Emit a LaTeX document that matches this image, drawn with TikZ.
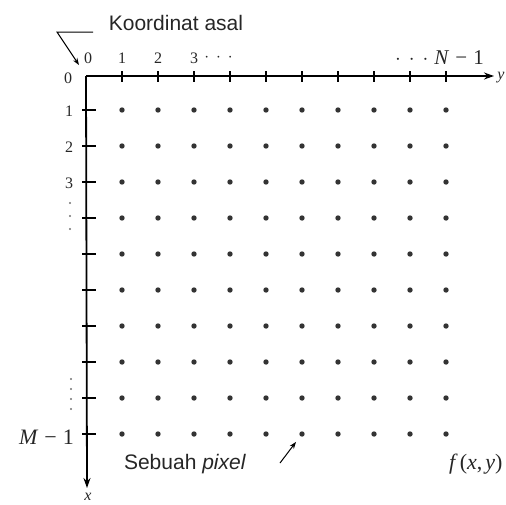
\documentclass[tikz,border=0pt]{standalone}
\usepackage{fontspec}
\setmainfont{Liberation Serif}
\newfontfamily\labelsans{Liberation Sans}
\usetikzlibrary{positioning,calc,arrows.meta}

\begin{document}
\begin{tikzpicture}[x=1pt,y=-1pt,
    axis/.style={line width=1.8pt,-{Stealth[length=10pt,width=7pt]}},
    tick/.style={line width=1.2pt},
    pix/.style={circle,fill=black!80,inner sep=0pt,minimum size=5.4pt},
    skip/.style={circle,fill=black!55,inner sep=0pt,minimum size=2.2pt},
    num/.style={font=\fontsize{16}{17}\selectfont,inner sep=1pt,text=black!85},
    big/.style={font=\fontsize{21}{22}\selectfont,inner sep=1pt,text=black!85},
    note/.style={font=\labelsans\fontsize{21}{23}\selectfont,inner sep=1pt,text=black!85},
    lead/.style={line width=1pt,-{Stealth[length=7pt,width=5pt]}}]
  \useasboundingbox (0,0) rectangle (506,504);
  \coordinate (o) at (86,76);
  \coordinate (yend) at (494,76);
  \coordinate (xend) at (87,488);
  % pixel grid with ticks
  \foreach \i in {1,...,10}{
    \draw[tick] (86+36*\i,71) -- (86+36*\i,82);
    \draw[tick] (82,74+36*\i) -- (96,74+36*\i);
    \foreach \j in {1,...,10}
      \node[pix] (p\i-\j) at (86+36*\i,74+36*\j) {};
  }
  \draw[axis] (o) -- (yend);
  \draw[axis] (o) -- (xend);
  % column labels
  \node[num] (c0) at (88,58) {0};
  \foreach \k in {1,2,3}
    \node[num] (c\k) at (86+36*\k,58) {\k};
  \node[num,right=4pt of c3] (cdots) {$\cdot$\hspace{7pt}$\cdot$\hspace{7pt}$\cdot$};
  \node[big,anchor=east] (cN) at (485,58) {$\cdot$\hspace{8pt}$\cdot$\hspace{8pt}$\cdot$\hspace{6pt}\textit{N}\hspace{6pt}−\hspace{6pt}1};
  \node[num] (ylab) at (501,78) {\textit{y}};
  % row labels
  \node[num] (r0) at (68,78) {0};
  \foreach \k in {1,2,3}
    \node[num] (r\k) at (69,75+36*\k) {\k};
  \foreach \d in {0,1,2}
    \node[skip] (ra\d) at (70,203+13*\d) {};
  \foreach \d in {0,1,2,3}
    \node[skip] (rb\d) at (71,379+10*\d) {};
  \node[big,font=\fontsize{22}{23}\selectfont,anchor=east] (rM) at (75,437) {\textit{M}\hspace{6pt}−\hspace{6pt}1};
  \node[num] (xlab) at (88,497) {\textit{x}};
  % notes
  \node[note] (asal) at (176,23) {Koordinat asal};
  \coordinate (lstart) at (93,32);
  \coordinate (lbend) at (57,32);
  \coordinate (ltip) at (79,65);
  \draw[lead] (lstart) -- (lbend) -- (ltip);
  \node[note] (pxl) at (185,464) {Sebuah \textit{pixel}};
  \coordinate (ptail) at (280,463);
  \draw[lead,shorten >=7pt] (ptail) -- (p6-10);
  \node[big,font=\fontsize{22}{23}\selectfont,anchor=west] (fxy) at (448,464) {\textit{f}\hspace{2pt}(\textit{x},\hspace{3pt}\textit{y})};
\end{tikzpicture}
\end{document}
